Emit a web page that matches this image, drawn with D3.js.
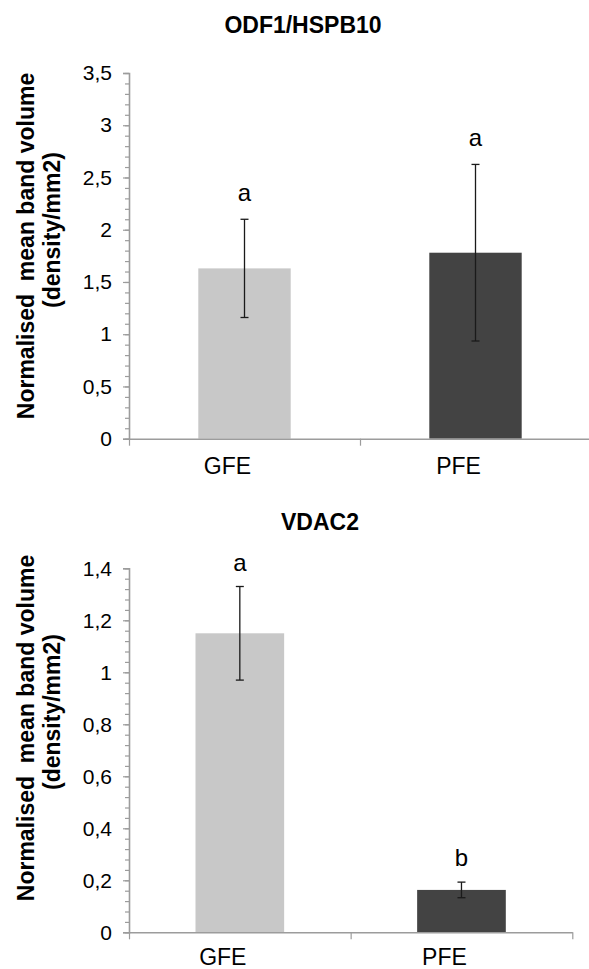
<!DOCTYPE html>
<html lang="en">

<head>
    <meta charset="UTF-8">
    <title>ODF1/HSPB10 and VDAC2</title>
    <script src="https://cdn.jsdelivr.net/npm/d3@7"></script>
</head>

<body>
    <script>
        // data
        const categories = ["GFE", "PFE"];
        const barColors = ["#c8c8c8", "#434343"];

        const odfValues = [1.63, 1.78];
        const odfErrors = [0.47, 0.845];
        const odfLetters = ["a", "a"];
        const odfTicks = [0, 0.5, 1, 1.5, 2, 2.5, 3, 3.5];

        const vdacValues = [1.15, 0.163];
        const vdacErrors = [0.18, 0.03];
        const vdacLetters = ["a", "b"];
        const vdacTicks = [0, 0.2, 0.4, 0.6, 0.8, 1, 1.2, 1.4];

        const width = 589;
        const height = 969;
        const font = "'Liberation Sans', Arial, sans-serif";
        const axisColor = "#9c9c9c";

        // comma decimals, like the original
        const fmt = d3.formatLocale({ decimal: ",", thousands: ".", grouping: [3], currency: ["", ""] }).format("~g");

        const svg = d3.select("body").append("svg")
            .attr("width", width)
            .attr("height", height)
            .style("background", "#fff");

        function drawChart(opt) {
            const g = svg.append("g");
            const yMax = opt.ticks[opt.ticks.length - 1];
            const y = d3.scaleLinear().domain([0, yMax]).range([opt.bottom, opt.top]);
            const x = d3.scaleBand().domain(categories).range([opt.left, opt.right]);
            const xEdge = d3.scaleLinear().domain([0, categories.length]).range([opt.left, opt.right]);
            const barW = x.bandwidth() * 0.4;

            // minor ticks, 5 per major step
            const step = opt.ticks[1] - opt.ticks[0];
            const minor = d3.range(0, yMax / step * 5 + 1).map(i => i * step / 5);
            g.append("g")
                .attr("transform", `translate(${opt.left},0)`)
                .call(d3.axisLeft(y).tickValues(minor).tickSize(4).tickFormat(""))
                .call(a => a.select(".domain").remove())
                .call(a => a.selectAll("line").attr("stroke", axisColor).attr("stroke-width", 1.2));

            const yAxis = g.append("g")
                .attr("transform", `translate(${opt.left},0)`)
                .call(d3.axisLeft(y).tickValues(opt.ticks).tickSize(6).tickPadding(11).tickFormat(fmt));
            yAxis.select(".domain").attr("stroke", axisColor).attr("stroke-width", 1.6);
            yAxis.selectAll("line").attr("stroke", axisColor).attr("stroke-width", 1.2);
            yAxis.selectAll("text")
                .attr("font-family", font)
                .attr("font-size", 21)
                .attr("fill", "#000");

            // bars
            g.append("g")
                .selectAll("rect")
                .data(opt.values)
                .join("rect")
                .attr("x", (d, i) => x(categories[i]) + (x.bandwidth() - barW) / 2)
                .attr("width", barW)
                .attr("y", d => y(d))
                .attr("height", d => y(0) - y(d))
                .attr("fill", (d, i) => barColors[i]);

            // error bars
            const err = g.append("g")
                .attr("stroke", "#1a1a1a")
                .attr("stroke-width", 1.3);
            const cx = i => x(categories[i]) + x.bandwidth() / 2;
            opt.values.forEach((v, i) => {
                const e = opt.errors[i];
                err.append("line")
                    .attr("x1", cx(i)).attr("x2", cx(i))
                    .attr("y1", y(v + e)).attr("y2", y(v - e));
                [v + e, v - e].forEach(t => {
                    err.append("line")
                        .attr("x1", cx(i) - 4).attr("x2", cx(i) + 4)
                        .attr("y1", y(t)).attr("y2", y(t));
                });
            });

            // significance letters
            g.append("g")
                .selectAll("text")
                .data(opt.letters)
                .join("text")
                .attr("x", (d, i) => cx(i))
                .attr("y", (d, i) => y(opt.values[i] + opt.errors[i]) - opt.letterGap)
                .attr("text-anchor", "middle")
                .attr("font-family", font)
                .attr("font-size", 24)
                .attr("fill", "#000")
                .text(d => d);

            // x axis with ticks on the category edges
            const xAxis = g.append("g")
                .attr("transform", `translate(0,${opt.bottom})`)
                .call(d3.axisBottom(xEdge).tickValues(d3.range(categories.length + 1)).tickSize(7).tickSizeOuter(0).tickFormat(""));
            xAxis.select(".domain").attr("stroke", axisColor).attr("stroke-width", 1.6);
            xAxis.selectAll("line").attr("stroke", axisColor).attr("stroke-width", 1.2);

            g.append("g")
                .selectAll("text")
                .data(categories)
                .join("text")
                .attr("x", d => x(d) + x.bandwidth() / 2 - 17)
                .attr("y", opt.catY)
                .attr("text-anchor", "middle")
                .attr("font-family", font)
                .attr("font-size", 23)
                .attr("fill", "#000")
                .text(d => d);

            // title
            g.append("text")
                .attr("x", opt.titleX)
                .attr("y", opt.titleY)
                .attr("text-anchor", "middle")
                .attr("font-family", font)
                .attr("font-size", 23)
                .attr("font-weight", "bold")
                .attr("fill", "#000")
                .text(opt.title);

            // y axis title, two lines
            const yl = g.append("text")
                .attr("transform", `translate(34,${opt.labelY}) rotate(-90)`)
                .attr("text-anchor", "middle")
                .attr("font-family", font)
                .attr("font-size", 23)
                .attr("font-weight", "bold")
                .attr("fill", "#000")
                .style("white-space", "pre");
            yl.append("tspan").attr("x", 0).attr("y", 0).text("Normalised  mean band volume");
            yl.append("tspan").attr("x", 16).attr("y", 26).text("(density/mm2)");
        }

        drawChart({
            title: "ODF1/HSPB10",
            values: odfValues, errors: odfErrors, letters: odfLetters, ticks: odfTicks,
            left: 129, right: 591, top: 73, bottom: 438.7,
            titleX: 303, titleY: 33, catY: 474, labelY: 246, letterGap: 18
        });

        drawChart({
            title: "VDAC2",
            values: vdacValues, errors: vdacErrors, letters: vdacLetters, ticks: vdacTicks,
            left: 129, right: 572.3, top: 568.3, bottom: 932.3,
            titleX: 320, titleY: 530, catY: 965, labelY: 728, letterGap: 16
        });
    </script>
    <style>
        * {
            margin: 0;
            padding: 0;
        }
    </style>
</body>

</html>
